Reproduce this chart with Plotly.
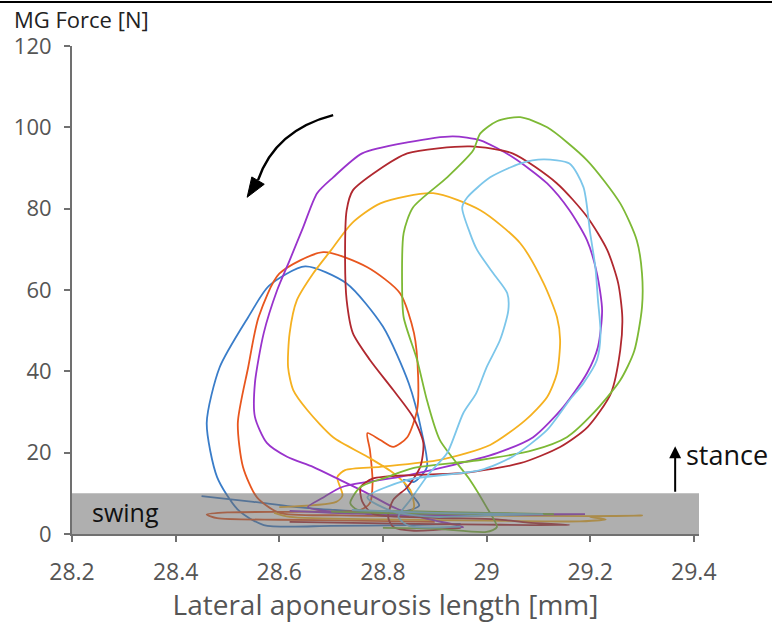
import plotly.graph_objects as go

# ---------------- data ----------------
x_ticks = [28.2, 28.4, 28.6, 28.8, 29.0, 29.2, 29.4]
x_tick_text = ["28.2", "28.4", "28.6", "28.8", "29", "29.2", "29.4"]
y_ticks = [0, 20, 40, 60, 80, 100, 120]

blue_x = [28.45, 28.55, 28.65, 28.75, 28.83, 28.87, 28.85, 28.84, 28.86, 28.885, 28.875, 28.85, 28.80,
          28.73, 28.65, 28.58, 28.54, 28.485, 28.46, 28.48, 28.52, 28.57, 28.70, 28.85, 28.95]
blue_y = [9.3, 7.9, 6.4, 5.6, 5.2, 7.0, 10.5, 13.3, 12.8, 16.5, 25, 37, 51,
          61.6, 65.8, 61, 53.3, 41, 27.3, 14, 6, 2.2, 2.0, 2.2, 2.5]

orange_x = [28.9, 28.75, 28.6, 28.48, 28.46, 28.5, 28.65, 28.756, 28.775, 28.78, 28.775, 28.77, 28.795,
            28.82, 28.847, 28.866, 28.868, 28.86, 28.833, 28.77, 28.685, 28.6, 28.56, 28.54, 28.52,
            28.53, 28.557, 28.6, 28.72, 28.85]
orange_y = [3.0, 3.3, 3.5, 3.9, 4.8, 5.3, 5.5, 5.9, 7.6, 12.5, 20.6, 24.8, 23.1,
            21.4, 23.8, 30.5, 38.6, 49.4, 59.2, 65.6, 69.3, 64, 53.3, 41, 27.3,
            16.5, 9, 5.2, 4.6, 4.4]

yellow_x = [28.6, 28.71, 28.722, 28.712, 28.727, 28.795, 28.91, 29.007, 29.075, 29.117, 29.136, 29.142,
            29.136, 29.11, 29.065, 28.988, 28.897, 28.795, 28.74, 28.70, 28.665, 28.634, 28.62, 28.617,
            28.627, 28.654, 28.704, 28.77, 28.82, 28.853, 28.86, 28.85, 29.0, 29.2, 29.3, 29.2, 29.23,
            29.18, 29.0, 28.8, 28.62, 28.59]
yellow_y = [6.6, 7.9, 9.5, 14, 15.7, 16.5, 18.2, 21.9, 28, 33.7, 39.6, 47.7,
            53.3, 61.7, 71.5, 79.6, 83.8, 81.3, 76.4, 69.8, 64, 57.5, 49.4, 41,
            35.4, 30.5, 23.8, 19, 15, 10.8, 6.6, 4.7, 4.5, 4.4, 4.5, 4.2, 3.6,
            3.1, 3.3, 3.6, 4.2, 5.2]

purple_x = [28.62, 28.75, 28.95, 29.19, 29.05, 28.85, 28.70, 28.655, 28.685, 28.72, 28.77, 28.83, 28.92,
            29.02, 29.09, 29.148, 29.194, 29.215, 29.223, 29.213, 29.194, 29.16, 29.117, 29.05, 28.988,
            28.935, 28.847, 28.76, 28.704, 28.673, 28.646, 28.62, 28.596, 28.57, 28.553, 28.553, 28.576,
            28.615, 28.665, 28.717, 28.77, 28.82, 28.87, 28.955, 28.9]
purple_y = [5.7, 5.0, 4.9, 4.9, 4.7, 4.5, 5.5, 6.6, 9.0, 11.5, 12.8, 14, 16.5,
            19.9, 23.8, 31.2, 39.6, 46, 55, 64.1, 72.2, 79.6, 86.2, 92.7, 96.8,
            97.8, 96.3, 93.6, 87.7, 83.8, 75.4, 67.3, 60, 49.4, 37.1, 28.8, 22.4,
            19, 16.5, 13.3, 10, 6.6, 4.2, 1.7, 1.5]

darkred_x = [28.62, 28.8, 29.0, 29.16, 29.08, 29.02, 28.9, 28.78, 28.76, 28.757, 28.78, 28.858, 28.955,
             29.065, 29.142, 29.195, 29.24, 29.258, 29.262, 29.254, 29.233, 29.194, 29.136, 29.05,
             28.968, 28.847, 28.79, 28.742, 28.73, 28.727, 28.73, 28.742, 28.775, 28.82, 28.858,
             28.878, 28.872, 28.847, 28.82, 28.81, 28.82, 28.86, 28.95]
darkred_y = [3.0, 2.6, 2.3, 2.2, 2.8, 3.6, 4.0, 5.0, 8, 11.5, 13.6, 14.5, 15,
             17.4, 21.4, 26.3, 34.6, 45.2, 53.3, 61.7, 69.8, 78, 86.2, 93.6,
             95.3, 93.6, 89.4, 84.5, 79.6, 67.3, 57.5, 49.4, 42.8, 35.4, 28.8,
             22.4, 16.5, 11.5, 8.4, 4.2, 1.7, 0.8, 1.5]

green_x = [28.7, 28.85, 29.0, 29.13, 29.0, 28.85, 28.75, 28.737, 28.756, 28.808, 28.858, 28.988, 29.09,
           29.155, 29.206, 29.258, 29.285, 29.3, 29.3, 29.29, 29.258, 29.194, 29.117, 29.065, 29.02,
           28.988, 28.974, 28.924, 28.858, 28.84, 28.837, 28.84, 28.866, 28.885, 28.91, 28.968, 29.0,
           29.02, 29.0, 28.9, 28.8]
green_y = [5.5, 5.0, 4.9, 4.9, 5.2, 5.6, 6.0, 7.6, 11.5, 14, 16.2, 18.2, 20.6,
           23.8, 29.7, 37.8, 45, 55.8, 64.1, 72.2, 81.3, 91.9, 100, 102.5, 101.5,
           98.5, 94.3, 87.7, 80.3, 74, 61.7, 53.3, 42.8, 32.9, 23.1, 13.3, 6.6,
           1.7, 0.5, 1.3, 1.5]

lightblue_x = [28.74, 28.9, 29.0, 29.11, 29.0, 28.9, 28.82, 28.77, 28.847, 28.988, 29.05, 29.117, 29.16,
               29.187, 29.213, 29.22, 29.215, 29.21, 29.2, 29.187, 29.16, 29.11, 29.065, 29.007, 28.963,
               28.953, 28.968, 28.982, 29.013, 29.04, 29.042, 29.026, 29.0, 28.98, 28.955, 28.924, 28.89,
               28.853, 28.83, 28.85, 28.95]
lightblue_y = [5.9, 5.2, 5.0, 4.9, 4.6, 4.2, 5.5, 9, 13.3, 15.7, 19, 25.6, 32.9,
               37.1, 42.8, 49.4, 57.5, 65.6, 74, 85.3, 91.1, 92.1, 91.1, 87.7, 82.8,
               80.3, 74, 69.8, 64.1, 59.2, 55, 47.7, 41, 34.6, 29.7, 19.9, 15,
               8.4, 4.2, 2.0, 1.8]

series = [
    ("blue", blue_x, blue_y, "#3A7DC9"),
    ("orange", orange_x, orange_y, "#E8561E"),
    ("yellow", yellow_x, yellow_y, "#F5B120"),
    ("purple", purple_x, purple_y, "#9933CC"),
    ("darkred", darkred_x, darkred_y, "#B0282F"),
    ("green", green_x, green_y, "#7DB935"),
    ("lightblue", lightblue_x, lightblue_y, "#7CC6EA"),
]

fig = go.Figure()
for name, xs, ys, col in series:
    fig.add_trace(go.Scatter(x=xs, y=ys, mode="lines", name=name,
                             line=dict(color=col, width=1.8, shape="spline", smoothing=0.7),
                             hoverinfo="skip", showlegend=False))

font_family = "Open Sans, Noto Sans, sans-serif"
axis_col = "#707070"
tick_col = "#555555"

fig.update_layout(
    width=772, height=623,
    margin=dict(l=72, r=73, t=46, b=89, autoexpand=False),
    paper_bgcolor="white", plot_bgcolor="white",
    showlegend=False,
    font=dict(family=font_family, color=tick_col, size=23),
    xaxis=dict(range=[28.2, 29.41], tickvals=x_ticks, ticktext=x_tick_text,
               showgrid=False, zeroline=False, showline=True, linecolor=axis_col, linewidth=2,
               ticks="outside", ticklen=6, tickwidth=2, tickcolor=axis_col,
               tickfont=dict(size=23, color=tick_col), ticklabelstandoff=10,
               title=dict(text="Lateral aponeurosis length [mm]", font=dict(size=28, color=tick_col),
                          standoff=10)),
    yaxis=dict(range=[0, 120], tickvals=y_ticks,
               showgrid=False, zeroline=False, showline=True, linecolor=axis_col, linewidth=2,
               ticks="outside", ticklen=6, tickwidth=2, tickcolor=axis_col,
               tickfont=dict(size=22, color=tick_col), ticklabelstandoff=8),
)

shapes = [
    # swing band
    dict(type="rect", xref="x", yref="y", x0=28.2, x1=29.41, y0=0, y1=10,
         fillcolor="rgba(110,110,110,0.55)", line=dict(width=0), layer="above"),
    # curved arrow shaft
    dict(type="path", xref="x", yref="y",
         path="M 28.704 103.0 Q 28.592 99.3 28.559 87.0",
         line=dict(color="black", width=2.5), fillcolor="rgba(0,0,0,0)"),
    # curved arrow head
    dict(type="path", xref="x", yref="y",
         path="M 28.538 82.8 L 28.571 86.0 L 28.547 87.8 Z",
         line=dict(color="black", width=1), fillcolor="black"),
    # top border line
    dict(type="line", xref="paper", yref="paper", x0=-0.2, x1=1.2, y0=1.09, y1=1.09,
         line=dict(color="black", width=2)),
]
fig.update_layout(shapes=shapes)

fig.add_annotation(x=-0.094, y=1.056, xref="paper", yref="paper", xanchor="left", yanchor="middle",
                   text="MG Force [N]", showarrow=False, borderpad=0,
                   font=dict(size=22, color="#222222", family=font_family))
fig.add_annotation(x=28.235, y=5.4, xref="x", yref="y", xanchor="left", yanchor="middle",
                   text="swing", showarrow=False, font=dict(size=25, color="#111111", family=font_family))
fig.add_annotation(x=29.381, y=19.6, xref="x", yref="y", xanchor="left", yanchor="middle",
                   text="stance", showarrow=False, font=dict(size=27, color="#111111", family=font_family))
fig.add_annotation(x=29.364, y=21.6, ax=29.364, ay=10, xref="x", yref="y", axref="x", ayref="y",
                   text="", showarrow=True, arrowhead=2, arrowsize=1.2, arrowwidth=2, arrowcolor="black")

fig.write_html("out.html", config={"displayModeBar": False},
               post_script="document.body.style.margin='0';document.body.style.overflow='hidden';")
